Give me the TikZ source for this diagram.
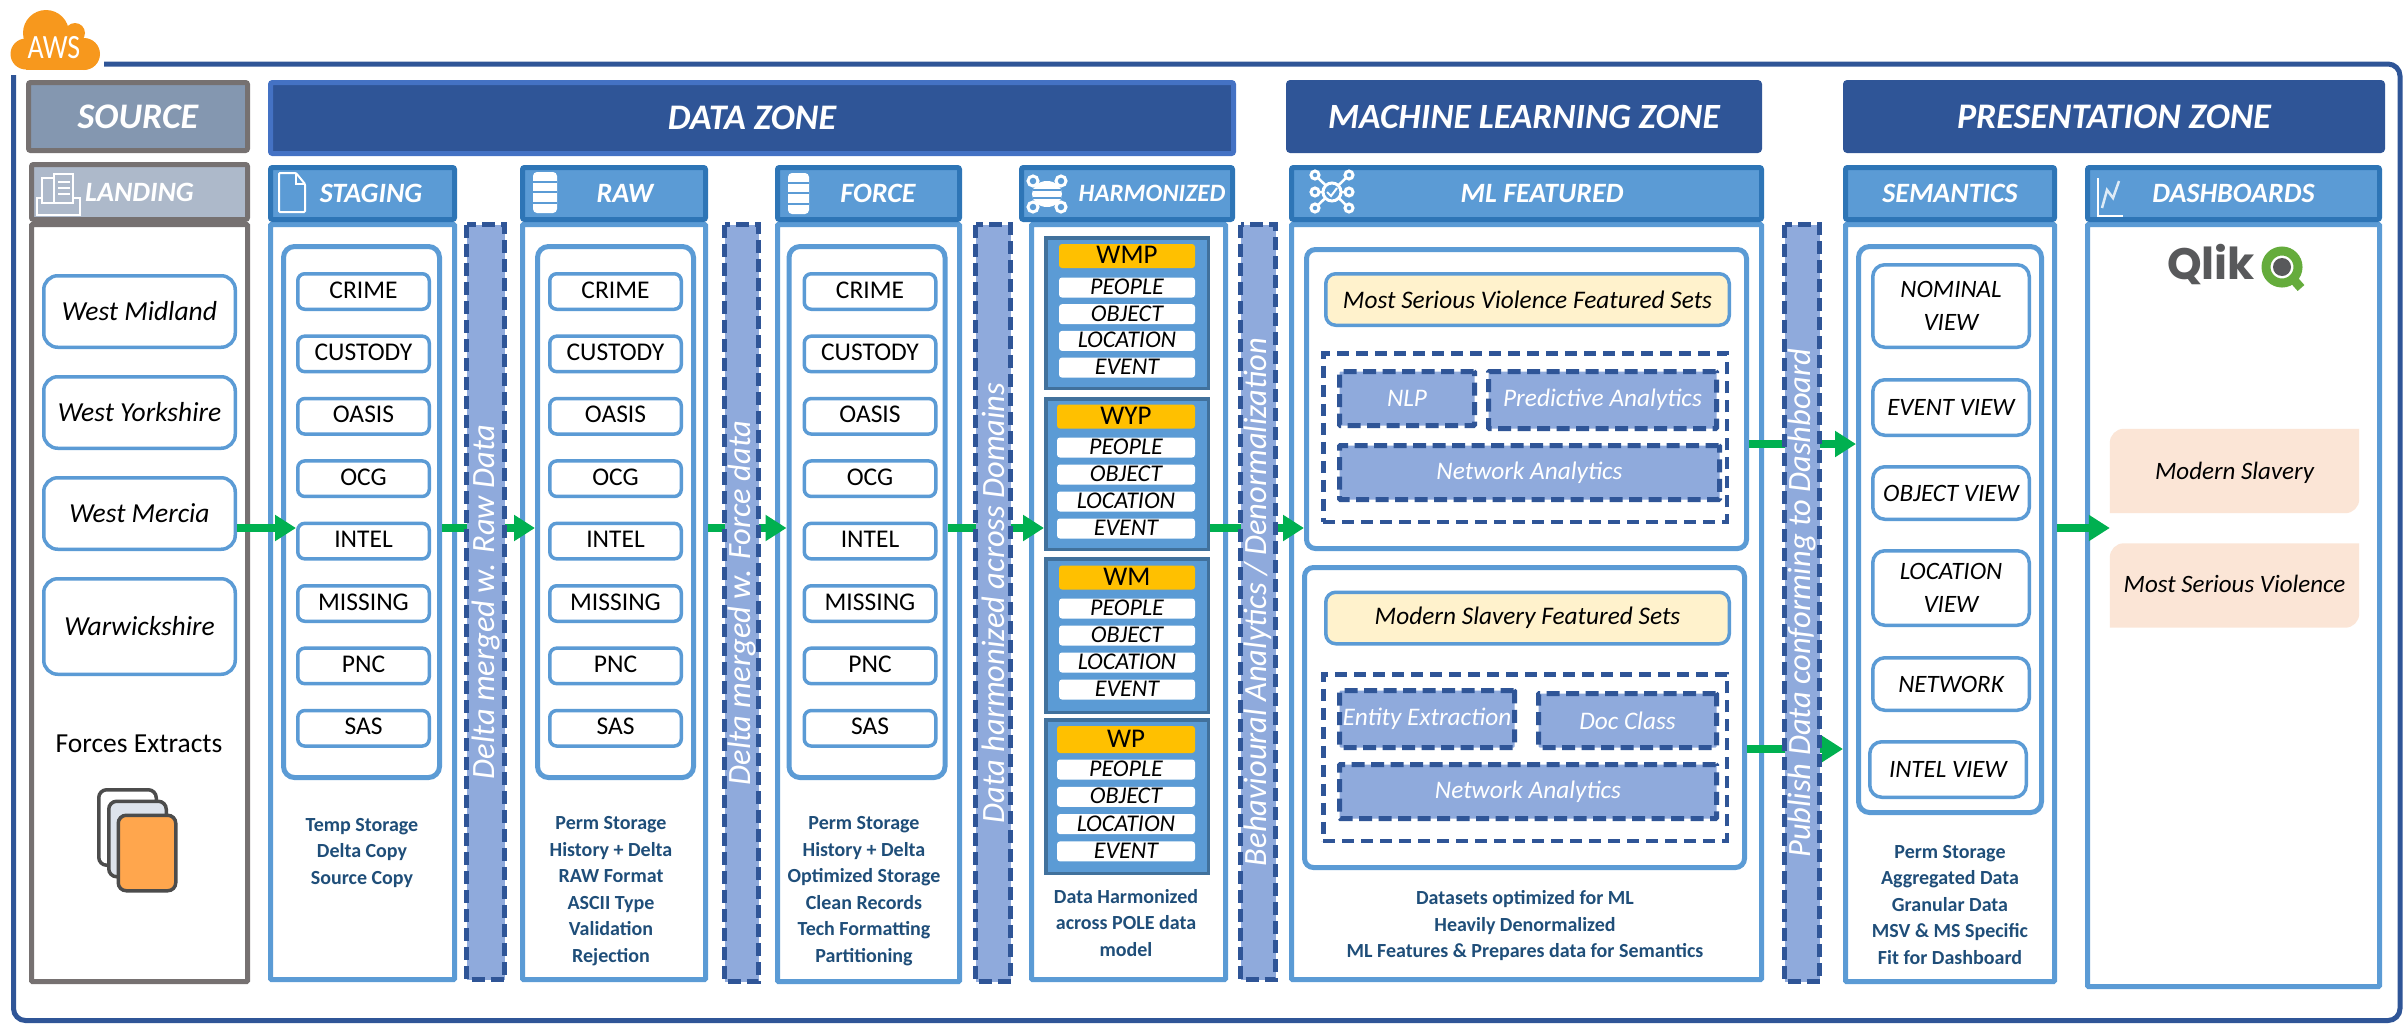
\documentclass[tikz,border=0pt]{standalone}
\usepackage{fontspec}
\setmainfont{Carlito}
\newfontfamily\qlikfont{Poppins}
\usetikzlibrary{shapes, arrows.meta, positioning}
\definecolor{awsOrange}{RGB}{247,152,29}
\definecolor{frameBlue}{RGB}{47,85,151}
\definecolor{zoneEdge}{RGB}{68,114,196}
\definecolor{srcGrey}{RGB}{118,113,113}
\definecolor{srcFill}{RGB}{132,151,176}
\definecolor{landFill}{RGB}{173,185,202}
\definecolor{headEdge}{RGB}{46,117,182}
\definecolor{headFill}{RGB}{91,155,213}
\definecolor{barFill}{RGB}{143,170,220}
\definecolor{groupEdge}{RGB}{65,113,156}
\definecolor{tagGold}{RGB}{255,192,0}
\definecolor{noteNavy}{RGB}{31,78,121}
\definecolor{setCream}{RGB}{255,242,204}
\definecolor{dashPeach}{RGB}{251,229,214}
\definecolor{flowGreen}{RGB}{0,176,80}
\definecolor{qlikGreen}{RGB}{101,172,60}
\definecolor{qlikGrey}{RGB}{88,89,91}
\definecolor{sheetOrange}{RGB}{255,166,77}
\definecolor{sheetPale}{RGB}{221,227,236}
\tikzstyle{zone} = [draw=frameBlue, fill=frameBlue, line width=5pt, rounded corners=2pt, text=white, inner sep=0pt, minimum height=68pt, font=\fontsize{36pt}{42pt}\selectfont\bfseries\itshape]
\tikzstyle{header} = [draw=headEdge, fill=headFill, line width=5pt, rounded corners=2pt, text=white, inner sep=0pt, minimum height=52pt, font=\fontsize{28pt}{34pt}\selectfont\bfseries\itshape]
\tikzstyle{body} = [draw=headFill, fill=white, line width=5pt, rounded corners=1pt, inner sep=0pt, minimum height=755pt]
\tikzstyle{inner} = [draw=headFill, fill=white, line width=5pt, rounded corners=11pt, inner sep=0pt, minimum width=156pt, minimum height=531pt]
\tikzstyle{item} = [draw=headFill, fill=white, line width=3.5pt, rounded corners=7pt, inner sep=0pt, minimum width=131.5pt, minimum height=35.5pt, text height=17pt, text depth=4pt, font=\fontsize{25.5pt}{30pt}\selectfont]
\tikzstyle{force} = [draw=headFill, fill=white, line width=3.5pt, rounded corners=14pt, inner sep=0pt, minimum width=191.5pt, minimum height=71.5pt, font=\fontsize{27.5pt}{34pt}\selectfont\itshape]
\tikzstyle{view} = [draw=headFill, fill=white, line width=3.5pt, rounded corners=12pt, inner sep=0pt, minimum width=156.5pt, align=center, font=\fontsize{25pt}{33pt}\selectfont\itshape]
\tikzstyle{group} = [draw=groupEdge, fill=headFill, line width=3.5pt, inner sep=0pt, minimum width=162.5pt, minimum height=150.5pt]
\tikzstyle{tag} = [fill=tagGold, rounded corners=3pt, inner sep=0pt, minimum width=136pt, minimum height=24pt, text height=17pt, text depth=2pt, font=\fontsize{27pt}{30pt}\selectfont]
\tikzstyle{row} = [fill=white, rounded corners=3pt, inner sep=0pt, minimum width=136pt, minimum height=20pt, text height=15pt, text depth=1pt, font=\fontsize{24pt}{28pt}\selectfont\itshape]
\tikzstyle{note} = [text=noteNavy, inner sep=0pt, align=center, font=\fontsize{20pt}{26.5pt}\selectfont\bfseries]
\tikzstyle{bar} = [draw=frameBlue, fill=barFill, line width=5pt, dash pattern=on 13pt off 6pt, rotate=90, text=white, inner sep=0pt, minimum width=755pt, minimum height=35pt, font=\fontsize{32.5pt}{38pt}\selectfont\itshape]
\tikzstyle{panel} = [draw=headFill, fill=white, line width=5pt, rounded corners=9pt, inner sep=0pt, minimum width=440pt, minimum height=299pt]
\tikzstyle{setname} = [draw=headFill, fill=setCream, line width=3.5pt, rounded corners=10pt, inner sep=0pt, minimum width=403.5pt, minimum height=51.5pt, font=\fontsize{25.3pt}{30pt}\selectfont\itshape]
\tikzstyle{toolset} = [draw=frameBlue, line width=4.5pt, dash pattern=on 12pt off 7pt, inner sep=0pt, minimum width=403.5pt]
\tikzstyle{tool} = [draw=frameBlue, fill=barFill, line width=5pt, dash pattern=on 13pt off 6.5pt, rounded corners=1pt, text=white, inner sep=0pt, minimum height=54pt, font=\fontsize{25.3pt}{30pt}\selectfont\itshape]
\tikzstyle{peach} = [inner sep=0pt, minimum width=249pt, minimum height=84pt, font=\fontsize{25pt}{30pt}\selectfont\itshape]
\tikzstyle{sheet} = [draw=black!70, line width=3.5pt, rounded corners=8pt, inner sep=0pt, minimum width=57.5pt, minimum height=75.5pt]
\tikzstyle{flow} = [->, draw=flowGreen, line width=8pt]
\tikzstyle{iconLine} = [draw=white, line width=2pt]

\begin{document}
\begin{tikzpicture}[x=1pt, y=-1pt, >={Triangle[length=21pt, width=25pt]}]
        \useasboundingbox (0,0) rectangle (2407,1023);
        % We start with the outer group and its cloud
        \draw [frameBlue, line width=5pt, rounded corners=12pt] (104,64) -- (2400,64) -- (2400,1020.5) -- (13.5,1020.5) -- (13.5,75);
        \fill [awsOrange] (46,33) circle (23);
        \fill [awsOrange] (75,33) circle (10);
        \fill [awsOrange] (26,54) circle (15.5);
        \fill [awsOrange] (84,54) circle (16);
        \fill [awsOrange] (26,38.5) rectangle (84,69.5);
        \node [inner sep=0pt, text=white, font=\fontsize{34pt}{36pt}\selectfont] (awsTag) at (54,48) {\scalebox{.82}[1]{AWS}};

        % Zone titles
        \node [zone, draw=srcGrey, fill=srcFill, minimum width=219pt] (source) at (138,116.5) {SOURCE};
        \node [zone, draw=zoneEdge, minimum width=963pt, minimum height=71pt] (dataZone) at (752,118) {DATA ZONE};
        \node [zone, minimum width=471pt, font=\fontsize{35.5pt}{42pt}\selectfont\bfseries\itshape] (mlZone) at (1524,116.5) {MACHINE LEARNING ZONE};
        \node [zone, minimum width=537pt] (presZone) at (2114,116.5) {PRESENTATION ZONE};

        % Column bodies, then the headers over them
        \node [body, draw=srcGrey, minimum width=216pt, minimum height=757pt] (landingBody) at (139.5,603) {};
        \node [body, minimum width=184pt] (stagingBody) at (362.5,602) {};
        \node [body, minimum width=183pt] (rawBody) at (614,602) {};
        \node [body, minimum width=182pt, minimum height=757pt] (forceBody) at (868.5,603) {};
        \node [body, minimum width=194pt] (harmBody) at (1128.5,602) {};
        \node [body, minimum width=470pt] (mlBody) at (1526.5,602) {};
        \node [body, minimum width=209pt, minimum height=757pt] (semBody) at (1950,603) {};
        \node [body, minimum width=292pt, minimum height=762pt] (dashBody) at (2233.5,605.5) {};

        \node [header, draw=srcGrey, fill=landFill, minimum width=216pt, minimum height=55pt] (landingHead) at (139.5,192) {LANDING};
        \node [header, minimum width=184pt] (stagingHead) at (362.5,193.5) {\hspace*{17pt}STAGING};
        \node [header, right of=stagingHead, node distance=251.5pt, minimum width=183pt] (rawHead) {\hspace*{22pt}RAW};
        \node [header, right of=rawHead, node distance=254.5pt, minimum width=182pt] (forceHead) {\hspace*{19pt}FORCE};
        \node [header, right of=forceHead, node distance=258.5pt, minimum width=211pt, font=\fontsize{25pt}{34pt}\selectfont\bfseries\itshape] (harmHead) {\hspace*{50pt}HARMONIZED};
        \node [header, right of=harmHead, node distance=399.5pt, minimum width=470pt] (mlHead) {\hspace*{31pt}ML FEATURED};
        \node [header, right of=mlHead, node distance=423.5pt, minimum width=209pt] (semHead) {SEMANTICS};
        \node [header, right of=semHead, node distance=283.5pt, minimum width=292pt] (dashHead) {DASHBOARDS};

        % Landing column
        \node [force] (westMidland) at (139.5,311.5) {West Midland};
        \node [force, below of=westMidland, node distance=101pt] (westYorkshire) {West Yorkshire};
        \node [force, below of=westYorkshire, node distance=101pt] (westMercia) {West Mercia};
        \node [force, minimum height=95.5pt, below of=westMercia, node distance=113pt] (warwickshire) {Warwickshire};
        \node [inner sep=0pt, font=\fontsize{27.5pt}{32pt}\selectfont] (forcesExtracts) at (139,744) {Forces Extracts};
        \node [sheet, fill=white] (sheetBack) at (127.5,827.5) {};
        \node [sheet, fill=sheetPale] (sheetMid) at (137.5,839) {};
        \node [sheet, fill=sheetOrange] (sheetFront) at (147,853) {};

        % Staging, raw and force tables
        \node [inner] (stagingInner) at (361.5,512) {};
        \node [inner] (rawInner) at (615.5,512) {};
        \node [inner] (forceInner) at (867,512) {};

        \node [item] (stagingCrime) at (363.5,291.5) {CRIME};
        \node [item, below of=stagingCrime, node distance=62.4pt] (stagingCustody) {CUSTODY};
        \node [item, below of=stagingCustody, node distance=62.4pt] (stagingOasis) {OASIS};
        \node [item, below of=stagingOasis, node distance=62.4pt] (stagingOcg) {OCG};
        \node [item, below of=stagingOcg, node distance=62.4pt] (stagingIntel) {INTEL};
        \node [item, below of=stagingIntel, node distance=62.4pt] (stagingMissing) {MISSING};
        \node [item, below of=stagingMissing, node distance=62.4pt] (stagingPnc) {PNC};
        \node [item, below of=stagingPnc, node distance=62.4pt] (stagingSas) {SAS};

        \node [item, right of=stagingCrime, node distance=252pt] (rawCrime) {CRIME};
        \node [item, below of=rawCrime, node distance=62.4pt] (rawCustody) {CUSTODY};
        \node [item, below of=rawCustody, node distance=62.4pt] (rawOasis) {OASIS};
        \node [item, below of=rawOasis, node distance=62.4pt] (rawOcg) {OCG};
        \node [item, below of=rawOcg, node distance=62.4pt] (rawIntel) {INTEL};
        \node [item, below of=rawIntel, node distance=62.4pt] (rawMissing) {MISSING};
        \node [item, below of=rawMissing, node distance=62.4pt] (rawPnc) {PNC};
        \node [item, below of=rawPnc, node distance=62.4pt] (rawSas) {SAS};

        \node [item, right of=rawCrime, node distance=254.5pt] (forceCrime) {CRIME};
        \node [item, below of=forceCrime, node distance=62.4pt] (forceCustody) {CUSTODY};
        \node [item, below of=forceCustody, node distance=62.4pt] (forceOasis) {OASIS};
        \node [item, below of=forceOasis, node distance=62.4pt] (forceOcg) {OCG};
        \node [item, below of=forceOcg, node distance=62.4pt] (forceIntel) {INTEL};
        \node [item, below of=forceIntel, node distance=62.4pt] (forceMissing) {MISSING};
        \node [item, below of=forceMissing, node distance=62.4pt] (forcePnc) {PNC};
        \node [item, below of=forcePnc, node distance=62.4pt] (forceSas) {SAS};

        \node [note] (stagingNote) at (362,853) {Temp Storage\\Delta Copy\\Source Copy};
        \node [note] (rawNote) at (611,891) {Perm Storage\\History + Delta\\RAW Format\\ASCII Type\\Validation\\Rejection};
        \node [note] (forceNote) at (864,891) {Perm Storage\\History + Delta\\Optimized Storage\\Clean Records\\Tech Formatting\\Partitioning};

        % Harmonized groups
        \node [group] (wmpGroup) at (1127,313) {};
        \node [tag] (wmpTag) at (1127,256) {WMP};
        \node [row, below of=wmpTag, node distance=31.5pt] (wmpPeople) {PEOPLE};
        \node [row, below of=wmpPeople, node distance=26.7pt] (wmpObject) {OBJECT};
        \node [row, below of=wmpObject, node distance=26.7pt] (wmpLocation) {LOCATION};
        \node [row, below of=wmpLocation, node distance=26.7pt] (wmpEvent) {EVENT};

        \node [group] (wypGroup) at (1127,474) {};
        \node [tag, minimum width=138pt] (wypTag) at (1126,416.5) {WYP};
        \node [row, minimum width=138pt, below of=wypTag, node distance=31pt] (wypPeople) {PEOPLE};
        \node [row, minimum width=138pt, below of=wypPeople, node distance=27pt] (wypObject) {OBJECT};
        \node [row, minimum width=138pt, below of=wypObject, node distance=27pt] (wypLocation) {LOCATION};
        \node [row, minimum width=138pt, below of=wypLocation, node distance=27pt] (wypEvent) {EVENT};

        \node [group, minimum height=153.5pt] (wmGroup) at (1127,635.5) {};
        \node [tag] (wmTag) at (1127,577.5) {WM};
        \node [row, below of=wmTag, node distance=31pt] (wmPeople) {PEOPLE};
        \node [row, below of=wmPeople, node distance=27pt] (wmObject) {OBJECT};
        \node [row, below of=wmObject, node distance=27pt] (wmLocation) {LOCATION};
        \node [row, below of=wmLocation, node distance=27pt] (wmEvent) {EVENT};

        \node [group, minimum height=153.5pt] (wpGroup) at (1127,796.5) {};
        \node [tag, minimum width=138pt, minimum height=27pt] (wpTag) at (1126,739.5) {WP};
        \node [row, minimum width=138pt, below of=wpTag, node distance=30pt] (wpPeople) {PEOPLE};
        \node [row, minimum width=138pt, below of=wpPeople, node distance=27.3pt] (wpObject) {OBJECT};
        \node [row, minimum width=138pt, below of=wpObject, node distance=27.3pt] (wpLocation) {LOCATION};
        \node [row, minimum width=138pt, below of=wpLocation, node distance=27.3pt] (wpEvent) {EVENT};

        \node [note] (harmNote) at (1126,923) {Data Harmonized\\across POLE data\\model};

        % ML panels
        \node [panel] (msvPanel) at (1526.5,399) {};
        \node [setname] (msvName) at (1527.5,299.5) {Most Serious Violence Featured Sets};
        \node [toolset, minimum height=168.5pt] (msvTools) at (1525,437.5) {};
        \node [tool, minimum width=135pt] (nlp) at (1407,398.5) {NLP};
        \node [tool, minimum width=228pt, minimum height=57pt] (predictive) at (1602.5,400) {Predictive Analytics};
        \node [tool, minimum width=380pt] (msvNetwork) at (1529.5,472.5) {Network Analytics};

        \node [panel, minimum height=300pt] (msPanel) at (1524.5,717.5) {};
        \node [setname] (msName) at (1527.5,618) {Modern Slavery Featured Sets};
        \node [toolset, minimum height=166.5pt] (msTools) at (1525,757.5) {};
        \node [tool, minimum width=175pt, minimum height=57pt] (entity) at (1427,719) {Entity Extraction};
        \node [tool, minimum width=178pt] (docClass) at (1627.5,720.5) {Doc Class};
        \node [tool, minimum width=377pt] (msNetwork) at (1528,791.5) {Network Analytics};

        \node [note] (mlNote) at (1525,926) {Datasets optimized for ML\\Heavily Denormalized\\ML Features \& Prepares data for Semantics};

        % Semantic views
        \node [inner, minimum width=183pt, minimum height=566pt] (semInner) at (1950,529.5) {};
        \node [view, minimum height=82.5pt] (nominalView) at (1951,306) {NOMINAL\\VIEW};
        \node [view, minimum height=55.5pt] (eventView) at (1951,407.5) {EVENT VIEW};
        \node [view, minimum height=52.5pt] (objectView) at (1951,493) {OBJECT VIEW};
        \node [view, minimum height=74.5pt] (locationView) at (1951,588) {LOCATION\\VIEW};
        \node [view, minimum height=52.5pt] (networkView) at (1951,684) {NETWORK};
        \node [view, minimum height=55.5pt] (intelView) at (1948,769.5) {INTEL VIEW};
        \node [note] (semNote) at (1950,905) {Perm Storage\\Aggregated Data\\Granular Data\\MSV \& MS Specific\\Fit for Dashboard};

        % Dashboards
        \node [inner sep=0pt, text=qlikGrey, font=\fontsize{44pt}{50pt}\selectfont\qlikfont\bfseries] (qlikName) at (2211,265) {Qlik};
        \draw [qlikGreen, line width=9pt] (2282,267) circle (16);
        \draw [qlikGreen, line width=9pt] (2293,279) -- (2301,288);
        \fill [qlikGrey] (2282,267) circle (9);
        \node [peach] (slaveryBox) at (2234.5,471) {};
        \fill [dashPeach] (slaveryBox.south west) [rounded corners=14pt] -- (slaveryBox.north west) [sharp corners] -- (slaveryBox.north east) [rounded corners=14pt] -- (slaveryBox.south east) [sharp corners] -- cycle;
        \node [peach, yshift=-2pt] at (slaveryBox) (slaveryText) {Modern Slavery};
        \node [peach] (violenceBox) at (2234.5,585.5) {};
        \fill [dashPeach] (violenceBox.south west) [rounded corners=14pt] -- (violenceBox.north west) [sharp corners] -- (violenceBox.north east) [rounded corners=14pt] -- (violenceBox.south east) [sharp corners] -- cycle;
        \node [peach, yshift=2pt] at (violenceBox) (violenceText) {Most Serious Violence};

        % Header icons
        \draw [iconLine] (37,198) rectangle (80,215);
        \draw [iconLine, line width=1.5pt, fill=landFill] (42,178) rectangle (54,203);
        \draw [iconLine, line width=1.5pt, fill=landFill] (54,174) rectangle (73,203);
        \draw [iconLine, line width=1.5pt] (58,182) -- (70,182) (58,188) -- (70,188) (58,194) -- (70,194);
        \draw [iconLine, rounded corners=1pt] (279,173) -- (296,173) -- (305,184) -- (305,212) -- (279,212) -- cycle;
        \draw [iconLine, line width=1.5pt] (296,173) -- (296,184) -- (305,184);
        \fill [white, rounded corners=4pt] (533,172) rectangle (557,213);
        \draw [headFill, line width=1.5pt] (533,182) -- (557,182) (533,192) -- (557,192) (533,203) -- (557,203);
        \fill [white, rounded corners=4pt] (788,173) rectangle (809,214);
        \draw [headFill, line width=1.5pt] (788,183) -- (809,183) (788,193) -- (809,193) (788,204) -- (809,204);
        \draw [white, line width=4pt] (1033,181) -- (1061,207) (1061,181) -- (1033,207);
        \fill [white] (1047,194) ellipse (15 and 13);
        \draw [headFill, line width=1.5pt] (1033,190) -- (1061,190) (1033,198) -- (1061,198);
        \draw [iconLine, line width=3pt, fill=headFill] (1033,181) circle (5) (1061,181) circle (5) (1033,207) circle (5) (1061,207) circle (5);
        \draw [white, line width=2.5pt] (1315,175) -- (1349,208) (1349,175) -- (1315,208) (1315,192) -- (1349,192);
        \draw [iconLine, line width=3pt, fill=headFill] (1332,192) circle (9) (1315,175) circle (4) (1349,175) circle (4) (1315,192) circle (4) (1349,192) circle (4) (1315,208) circle (4) (1349,208) circle (4);
        \draw [iconLine] (1327,192) -- (1331,196) -- (1337,188);
        \draw [iconLine, line width=1.5pt] (2098,178) -- (2098,216) -- (2123,216);
        \draw [iconLine, line width=2.5pt, opacity=.8] (2102,208) -- (2107,190) -- (2113,198) -- (2119,181);

        % Once the nodes are placed, the flows run along these levels
        \coordinate (flowLevel) at (0,528);
        \coordinate (upperLevel) at (0,444);
        \coordinate (lowerLevel) at (0,749);
        \draw [flow] (westMercia.east |- flowLevel) -- (stagingIntel.west |- flowLevel);
        \draw [flow] (stagingInner.east |- flowLevel) -- (rawInner.west |- flowLevel);
        \draw [flow] (rawBody.east |- flowLevel) -- (forceInner.west |- flowLevel);
        \draw [flow] (forceInner.east |- flowLevel) -- (wypGroup.west |- flowLevel);
        \draw [flow] (wypGroup.east |- flowLevel) -- (msvPanel.west |- flowLevel);
        \draw [flow] (msvPanel.east |- upperLevel) -- (semInner.west |- upperLevel);
        \draw [flow] (msPanel.east |- lowerLevel) -- (semBody.west |- lowerLevel);
        \draw [flow] (semBody.east |- flowLevel) -- (slaveryBox.west |- flowLevel);

        % The bars go over the flows
        \node [bar, minimum height=38pt] (rawBar) at (485.5,602) {Delta merged w. Raw Data};
        \node [bar, minimum height=34pt, minimum width=757pt] (forceBar) at (741.5,603) {Delta merged w. Force data};
        \node [bar, minimum width=757pt] (harmBar) at (993,603) {Data harmonized across Domains};
        \node [bar] (behavBar) at (1258,602) {Behavioural Analytics / Denormalization};
        \node [bar, minimum width=757pt] (publishBar) at (1802,603) {Publish Data conforming to Dashboard};
    \end{tikzpicture}
\end{document}
